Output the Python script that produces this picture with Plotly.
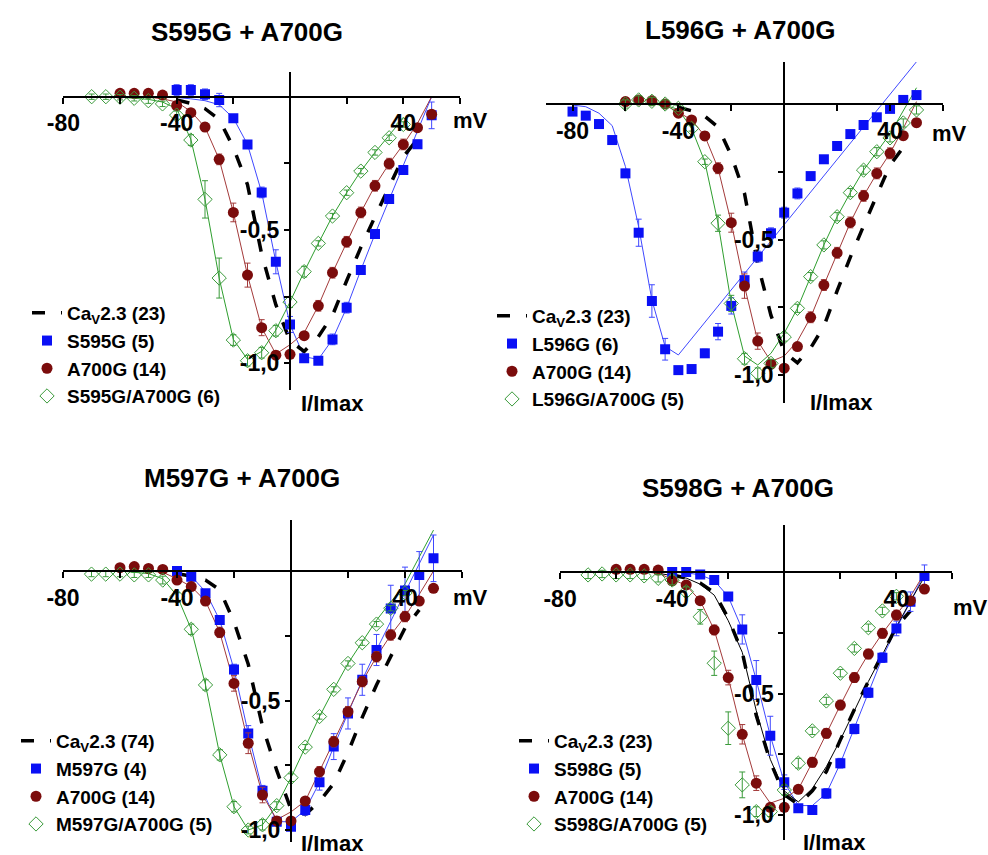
import plotly.graph_objects as go

W, H = 988, 855

# ------------------------------------------------------------------ data
TITLES = ["S595G + A700G", "L596G + A700G", "M597G + A700G", "S598G + A700G"]
LEG_CAV = ["Ca<sub>V</sub>2.3 (23)", "Ca<sub>V</sub>2.3 (23)", "Ca<sub>V</sub>2.3 (74)", "Ca<sub>V</sub>2.3 (23)"]
LEG_BLUE = ["S595G (5)", "L596G (6)", "M597G (4)", "S598G (5)"]
LEG_RED = ["A700G (14)", "A700G (14)", "A700G (14)", "A700G (14)"]
LEG_GREEN = ["S595G/A700G (6)", "L596G/A700G (5)", "M597G/A700G (5)", "S598G/A700G (5)"]

X_TICKVALS = [-80, -40, 40]
X_TICKTEXT = ["-80", "-40", "40"]
X_MINORVALS = [-60, -20, 20, 60]
Y_TICKVALS = [-1.0, -0.5]
Y_TICKTEXT = ["-1,0", "-0,5"]
Y_MINORVALS = [-0.75, -0.25]

V_CAV = [-40, -35, -30, -25, -20, -15, -10, -5, 0, 5, 10, 15, 20, 25, 30, 35, 40, 45]
I_CAV23 = [-0.012, -0.025, -0.045, -0.085, -0.19, -0.33, -0.59, -0.78, -0.915, -0.955,
           -0.9, -0.82, -0.69, -0.565, -0.45, -0.335, -0.225, -0.16]
I_CAV74 = [-0.01, -0.02, -0.035, -0.073, -0.196, -0.36, -0.6, -0.77, -0.92, -0.94,
           -0.89, -0.82, -0.7, -0.565, -0.44, -0.33, -0.22, -0.15]
V_CAVFIT4 = [-45, -40, -35, -30, -25, -20, -15, -10, -5, 0, 5, 10, 15, 20, 25, 30, 35, 40, 45, 50]
I_CAVFIT4 = [-0.005, -0.015, -0.025, -0.05, -0.095, -0.2, -0.33, -0.57, -0.77, -0.9, -0.945,
             -0.89, -0.8, -0.69, -0.57, -0.45, -0.34, -0.225, -0.12, -0.02]

# ---- panel 1 : S595G + A700G
P1_BLUE_V = [-40, -35, -30, -25, -20, -15, -10, -5, 0, 5, 10, 15, 20, 25, 30, 35, 40, 45, 50]
P1_BLUE_I = [0.025, 0.025, 0.009, -0.0125, -0.081, -0.179, -0.359, -0.619, -0.854, -0.981,
             -0.99, -0.91, -0.791, -0.65, -0.515, -0.384, -0.275, -0.178, -0.07]
P1_BLUE_E = [0.02, 0.02, 0.02, 0.025, 0.01, 0.01, 0.02, 0.045, 0.03, 0.01, 0.01, 0.02, 0.02,
             0.015, 0.01, 0.01, 0.01, 0.015, 0.05]
P1_BLUE_FIT_V = [-50, -40, -35, -30, -25, -20, -15, -10, -5, 0, 5, 10, 15, 20, 25, 30, 50]
P1_BLUE_FIT_I = [0.0, -0.003, -0.008, -0.015, -0.03, -0.08, -0.179, -0.359, -0.619, -0.854,
                 -0.975, -0.985, -0.91, -0.791, -0.65, -0.515, 0.0]
P1_RED_V = [-60, -55, -50, -45, -40, -35, -30, -25, -20, -15, -10, -5, 0, 5, 10, 15, 20, 25,
            30, 35, 40, 45, 50]
P1_RED_I = [0.0125, 0.0125, 0.0125, 0.006, -0.033, -0.06, -0.114, -0.235, -0.434, -0.669,
            -0.866, -0.969, -0.966, -0.896, -0.784, -0.66, -0.544, -0.434, -0.334, -0.251,
            -0.179, -0.116, -0.066]
P1_RED_E = [0.01, 0.01, 0.01, 0.01, 0.01, 0.01, 0.015, 0.02, 0.035, 0.045, 0.03, 0.015, 0.01,
            0.01, 0.02, 0.02, 0.02, 0.02, 0.02, 0.02, 0.02, 0.015, 0.015]
P1_RED_FIT_V = [-60, -50, -45, -40, -35, -30, -25, -20, -15, -10, -5, 0, 5, 10, 15, 20, 25,
                30, 35, 40, 45, 50]
P1_RED_FIT_I = [0.0, -0.002, -0.008, -0.02, -0.055, -0.114, -0.235, -0.434, -0.669, -0.866,
                -0.965, -0.93, -0.885, -0.784, -0.66, -0.544, -0.434, -0.334, -0.251, -0.179,
                -0.1, 0.0]
P1_GREEN_V = [-70, -65, -60, -55, -50, -45, -40, -35, -30, -25, -20, -15, -10, -5, 0, 5, 10,
              15, 20, 25, 30, 35, 40]
P1_GREEN_I = [0.0, 0.0, -0.002, -0.006, -0.015, -0.027, -0.069, -0.1625, -0.385, -0.68,
              -0.9125, -0.99, -0.96, -0.8775, -0.77, -0.656, -0.55, -0.4475, -0.36, -0.279,
              -0.209, -0.154, -0.104]
P1_GREEN_E = [0.01, 0.01, 0.01, 0.01, 0.01, 0.01, 0.015, 0.02, 0.07, 0.075, 0.02, 0.02, 0.02,
              0.02, 0.02, 0.02, 0.01, 0.01, 0.01, 0.01, 0.01, 0.01, 0.01]
P1_GREEN_FIT_V = [-70, -60, -50, -45, -40, -35, -30, -25, -20, -15, -10, -5, 0, 5, 10, 15, 20,
                  25, 30, 35, 40]
P1_GREEN_FIT_I = [0.0, -0.002, -0.01, -0.02, -0.045, -0.16, -0.385, -0.68, -0.91, -0.985,
                  -0.955, -0.875, -0.77, -0.656, -0.55, -0.4475, -0.36, -0.279, -0.209,
                  -0.145, -0.08]

# ---- panel 2 : L596G + A700G
P2_BLUE_V = [-80, -75, -70, -65, -60, -55, -50, -45, -40, -35, -30, -25, -20, -15, -10, -5,
             0, 5, 10, 15, 20, 25, 30, 35, 40, 45, 50]
P2_BLUE_I = [-0.028, -0.043, -0.074, -0.133, -0.256, -0.475, -0.727, -0.905, -0.982, -0.978,
             -0.92, -0.84, -0.745, -0.65, -0.563, -0.477, -0.401, -0.33, -0.266, -0.204,
             -0.155, -0.111, -0.0775, -0.049, -0.018, 0.015, 0.033]
P2_BLUE_E = [0.01, 0.01, 0.01, 0.01, 0.015, 0.05, 0.06, 0.04, 0.01, 0.01, 0.015, 0.03, 0.03,
             0.03, 0.02, 0.02, 0.02, 0.02, 0.01, 0.01, 0.01, 0.01, 0.01, 0.01, 0.01, 0.01, 0.01]
P2_BLUE_FIT_V = [-80, -75, -70, -65, -60, -55, -50, -45, -40, 50]
P2_BLUE_FIT_I = [-0.004, -0.01, -0.034, -0.08, -0.231, -0.453, -0.723, -0.895, -0.926, 0.156]
P2_RED_V = [-60, -55, -50, -45, -40, -35, -30, -25, -20, -15, -10, -5, 0, 5, 10, 15, 20, 25,
            30, 35, 40, 45, 50]
P2_RED_I = [0.009, 0.015, 0.012, 0.0, -0.034, -0.059, -0.118, -0.237, -0.438, -0.672,
            -0.875, -0.96, -0.975, -0.895, -0.787, -0.668, -0.549, -0.437, -0.339, -0.256,
            -0.182, -0.117, -0.069]
P2_RED_E = [0.015, 0.015, 0.015, 0.015, 0.01, 0.01, 0.015, 0.02, 0.035, 0.045, 0.03, 0.015,
            0.01, 0.01, 0.02, 0.02, 0.02, 0.02, 0.02, 0.02, 0.02, 0.015, 0.015]
P2_RED_FIT_V = [-60, -50, -45, -40, -35, -30, -25, -20, -15, -10, -5, 0, 5, 10, 15, 20, 25,
                30, 35, 40, 45, 50]
P2_RED_FIT_I = [0.0, 0.0, -0.005, -0.03, -0.059, -0.118, -0.237, -0.438, -0.672, -0.875,
                -0.95, -0.93, -0.875, -0.787, -0.668, -0.549, -0.437, -0.339, -0.256, -0.182,
                -0.09, 0.009]
P2_GREEN_V = [-60, -55, -50, -45, -40, -35, -30, -25, -20, -15, -10, -5, 0, 5, 10, 15, 20, 25,
              30, 35, 40, 45, 50]
P2_GREEN_I = [0.0, 0.015, 0.01, 0.0, -0.016, -0.09, -0.213, -0.44, -0.736, -0.94, -0.994,
              -0.957, -0.86, -0.754, -0.637, -0.52, -0.416, -0.327, -0.244, -0.176, -0.125,
              -0.07, -0.022]
P2_GREEN_E = [0.015, 0.015, 0.015, 0.015, 0.01, 0.01, 0.01, 0.03, 0.03, 0.02, 0.02, 0.015,
              0.015, 0.015, 0.015, 0.015, 0.015, 0.015, 0.015, 0.015, 0.015, 0.015, 0.015]
P2_GREEN_FIT_V = [-60, -50, -45, -40, -35, -30, -25, -20, -15, -10, -5, 0, 5, 10, 15, 20, 25,
                  30, 35, 40, 50]
P2_GREEN_FIT_I = [0.0, 0.0, -0.005, -0.02, -0.09, -0.213, -0.44, -0.736, -0.93, -0.963,
                  -0.92, -0.846, -0.754, -0.637, -0.52, -0.416, -0.327, -0.244, -0.176,
                  -0.11, 0.06]

# ---- panel 3 : M597G + A700G
P3_BLUE_V = [-40, -35, -30, -25, -20, -15, -10, -5, 0, 5, 10, 15, 20, 25, 30, 35, 40, 45, 50]
P3_BLUE_I = [0.0, -0.022, -0.086, -0.189, -0.38, -0.627, -0.848, -0.968, -0.987, -0.923,
             -0.816, -0.678, -0.55, -0.42, -0.305, -0.145, -0.075, -0.015, 0.049]
P3_BLUE_E = [0.01, 0.01, 0.01, 0.01, 0.02, 0.03, 0.02, 0.01, 0.01, 0.02, 0.03, 0.05, 0.06,
             0.06, 0.06, 0.09, 0.09, 0.09, 0.09]
P3_BLUE_FIT_V = [-45, -40, -35, -30, -25, -20, -15, -10, -5, 0, 5, 10, 15, 20, 25, 30, 50]
P3_BLUE_FIT_I = [0.0, -0.003, -0.02, -0.08, -0.19, -0.38, -0.627, -0.848, -0.968, -0.968,
                 -0.923, -0.816, -0.678, -0.55, -0.42, -0.305, 0.139]
P3_RED_V = [-60, -55, -50, -45, -40, -35, -30, -25, -20, -15, -10, -5, 0, 5, 10, 15, 20, 25,
            30, 35, 40, 45, 50]
P3_RED_I = [0.013, 0.017, 0.01, 0.006, -0.035, -0.06, -0.116, -0.237, -0.434, -0.665, -0.865,
            -0.965, -0.965, -0.888, -0.775, -0.659, -0.543, -0.427, -0.331, -0.247, -0.176,
            -0.116, -0.067]
P3_RED_E = [0.01, 0.01, 0.01, 0.01, 0.01, 0.01, 0.015, 0.02, 0.03, 0.04, 0.03, 0.015, 0.01,
            0.01, 0.02, 0.02, 0.02, 0.02, 0.02, 0.02, 0.02, 0.015, 0.015]
P3_RED_FIT_V = [-60, -50, -45, -40, -35, -30, -25, -20, -15, -10, -5, 0, 5, 10, 15, 20, 25,
                30, 35, 40, 45, 50]
P3_RED_FIT_I = [0.0, 0.0, -0.005, -0.03, -0.06, -0.116, -0.237, -0.434, -0.665, -0.865,
                -0.96, -0.93, -0.888, -0.775, -0.659, -0.543, -0.427, -0.331, -0.247, -0.176,
                -0.09, 0.0]
P3_GREEN_V = [-70, -65, -60, -55, -50, -45, -40, -35, -30, -25, -20, -15, -10, -5, 0, 5, 10,
              15, 20, 25, 30, 35, 40]
P3_GREEN_I = [-0.012, -0.012, -0.012, -0.015, -0.015, -0.035, -0.099, -0.225, -0.44, -0.71,
              -0.91, -1.0, -0.98, -0.906, -0.798, -0.68, -0.562, -0.457, -0.357, -0.277,
              -0.205, -0.144, -0.085]
P3_GREEN_E = [0.01, 0.01, 0.01, 0.01, 0.01, 0.015, 0.015, 0.02, 0.02, 0.02, 0.02, 0.015,
              0.02, 0.015, 0.015, 0.01, 0.01, 0.01, 0.01, 0.01, 0.01, 0.01, 0.01]
P3_GREEN_FIT_V = [-70, -60, -50, -45, -40, -35, -30, -25, -20, -15, -10, -5, 0, 5, 10, 15, 20,
                  30, 40, 50]
P3_GREEN_FIT_I = [0.0, 0.0, -0.01, -0.03, -0.095, -0.225, -0.44, -0.71, -0.91, -1.0, -0.98,
                  -0.906, -0.798, -0.68, -0.562, -0.457, -0.357, -0.19, -0.05, 0.158]

# ---- panel 4 : S598G + A700G
P4_BLUE_V = [-40, -35, -30, -25, -20, -15, -10, -5, 0, 5, 10, 15, 20, 25, 30, 35, 40, 45, 50]
P4_BLUE_I = [0.0, 0.0, -0.01, -0.033, -0.101, -0.236, -0.444, -0.673, -0.864, -0.971, -0.978,
             -0.91, -0.786, -0.645, -0.496, -0.352, -0.232, -0.122, -0.016]
P4_BLUE_E = [0.005, 0.005, 0.005, 0.005, 0.015, 0.06, 0.08, 0.08, 0.03, 0.01, 0.01, 0.02, 0.02,
             0.02, 0.02, 0.02, 0.03, 0.04, 0.045]
P4_BLUE_FIT_V = [-45, -40, -35, -30, -25, -20, -15, -10, -5, 0, 5, 10, 15, 20, 25, 30, 35, 40,
                 45, 50]
P4_BLUE_FIT_I = [0.0, 0.0, -0.003, -0.012, -0.035, -0.101, -0.236, -0.444, -0.673, -0.864,
                 -0.96, -0.96, -0.91, -0.786, -0.645, -0.496, -0.352, -0.232, -0.122, -0.005]
P4_RED_V = [-60, -55, -50, -45, -40, -35, -30, -25, -20, -15, -10, -5, 0, 5, 10, 15, 20, 25,
            30, 35, 40, 45, 50]
P4_RED_I = [0.011, 0.011, 0.011, 0.008, -0.036, -0.053, -0.118, -0.238, -0.434, -0.667,
            -0.868, -0.967, -0.967, -0.893, -0.782, -0.663, -0.547, -0.434, -0.337, -0.252,
            -0.177, -0.118, -0.07]
P4_RED_E = [0.01, 0.01, 0.01, 0.01, 0.01, 0.01, 0.015, 0.02, 0.03, 0.04, 0.03, 0.015, 0.01,
            0.01, 0.02, 0.02, 0.02, 0.02, 0.02, 0.02, 0.02, 0.015, 0.015]
P4_RED_FIT_V = [-60, -50, -45, -40, -35, -30, -25, -20, -15, -10, -5, 0, 5, 10, 15, 20, 25,
                30, 35, 40, 45, 50]
P4_RED_FIT_I = [0.0, 0.0, -0.005, -0.03, -0.055, -0.118, -0.238, -0.434, -0.667, -0.868,
                -0.95, -0.93, -0.893, -0.782, -0.663, -0.547, -0.434, -0.337, -0.252, -0.177,
                -0.1, -0.005]
P4_GREEN_V = [-70, -65, -60, -55, -50, -45, -40, -35, -30, -25, -20, -15, -10, -5, 0, 5, 10,
              15, 20, 25, 30, 35, 40]
P4_GREEN_I = [-0.012, -0.008, -0.012, -0.012, -0.016, -0.026, -0.033, -0.081, -0.184, -0.375,
              -0.642, -0.875, -0.985, -0.985, -0.896, -0.786, -0.653, -0.53, -0.416, -0.314,
              -0.229, -0.16, -0.1]
P4_GREEN_E = [0.015, 0.015, 0.015, 0.015, 0.015, 0.015, 0.02, 0.02, 0.03, 0.05, 0.067, 0.053,
              0.02, 0.02, 0.02, 0.02, 0.015, 0.015, 0.015, 0.015, 0.015, 0.015, 0.015]

# ------------------------------------------------------------------ styles
BLUE = "#0A10F5"
RED = "#7B0C0C"
GREEN = "#3A9A3A"
BLUE_LINE = "#3F48FF"
RED_LINE = "#A33A3A"
GREEN_LINE = "#2E9E2E"
FONT = "Liberation Sans"

# pixel geometry of each panel (x of 0 mV, px per mV, x range, y of 0, px per unit, top, bottom)
GEOM = [
    dict(x0=290.0, sx=2.833, xmin=-80, xmax=60, y0=96.7, sy=266.7, ytop=71.7, ybot=390.0),
    dict(x0=784.2, sx=2.646, xmin=-90, xmax=60, y0=104.0, sy=271.0, ytop=62.0, ybot=403.0),
    dict(x0=291.0, sx=2.850, xmin=-80, xmax=60, y0=571.0, sy=259.0, ytop=520.0, ybot=841.7),
    dict(x0=784.3, sx=2.803, xmin=-80, xmax=60, y0=572.0, sy=243.3, ytop=525.0, ybot=840.0),
]
TITLE_POS = [(247, 32), (740, 30), (242, 478), (738, 488)]
MV_POS = [(470, 120), (949, 133), (470, 597), (970, 607)]
IMAX_POS = [(332, 403), (841, 402), (332, 843), (834, 842)]
LEG_POS = [(27, 294), (492, 297), (16, 722), (514, 722)]

PANELS = [
    dict(cav_v=V_CAV, cav_i=I_CAV23, cav_fit=None,
         blue=(P1_BLUE_V, P1_BLUE_I, P1_BLUE_E), blue_fit=(P1_BLUE_FIT_V, P1_BLUE_FIT_I),
         red=(P1_RED_V, P1_RED_I, P1_RED_E), red_fit=(P1_RED_FIT_V, P1_RED_FIT_I),
         green=(P1_GREEN_V, P1_GREEN_I, P1_GREEN_E), green_fit=(P1_GREEN_FIT_V, P1_GREEN_FIT_I)),
    dict(cav_v=V_CAV, cav_i=I_CAV23, cav_fit=None,
         blue=(P2_BLUE_V, P2_BLUE_I, P2_BLUE_E), blue_fit=(P2_BLUE_FIT_V, P2_BLUE_FIT_I),
         red=(P2_RED_V, P2_RED_I, P2_RED_E), red_fit=(P2_RED_FIT_V, P2_RED_FIT_I),
         green=(P2_GREEN_V, P2_GREEN_I, P2_GREEN_E), green_fit=(P2_GREEN_FIT_V, P2_GREEN_FIT_I)),
    dict(cav_v=V_CAV, cav_i=I_CAV74, cav_fit=None,
         blue=(P3_BLUE_V, P3_BLUE_I, P3_BLUE_E), blue_fit=(P3_BLUE_FIT_V, P3_BLUE_FIT_I),
         red=(P3_RED_V, P3_RED_I, P3_RED_E), red_fit=(P3_RED_FIT_V, P3_RED_FIT_I),
         green=(P3_GREEN_V, P3_GREEN_I, P3_GREEN_E), green_fit=(P3_GREEN_FIT_V, P3_GREEN_FIT_I)),
    dict(cav_v=V_CAV, cav_i=I_CAV23, cav_fit=(V_CAVFIT4, I_CAVFIT4),
         blue=(P4_BLUE_V, P4_BLUE_I, P4_BLUE_E), blue_fit=(P4_BLUE_FIT_V, P4_BLUE_FIT_I),
         red=(P4_RED_V, P4_RED_I, P4_RED_E), red_fit=(P4_RED_FIT_V, P4_RED_FIT_I),
         green=(P4_GREEN_V, P4_GREEN_I, P4_GREEN_E), green_fit=None),
]

fig = go.Figure()
layout = dict(
    width=W, height=H, margin=dict(l=0, r=0, t=0, b=0, pad=0, autoexpand=False),
    autosize=False,
    paper_bgcolor="white", plot_bgcolor="rgba(0,0,0,0)",
    separators=",.", font=dict(family=FONT, color="black"),
    annotations=[],
)

for k, (g, p) in enumerate(zip(GEOM, PANELS)):
    n = "" if k == 0 else str(k + 1)
    xa, ya = "x" + n, "y" + n
    leg = "legend" + n

    # fitted curves
    fits = [(p["blue_fit"], BLUE_LINE), (p["red_fit"], RED_LINE), (p["green_fit"], GREEN_LINE)]
    for fit, col in fits:
        if fit is None:
            continue
        fig.add_trace(go.Scatter(x=fit[0], y=fit[1], mode="lines", xaxis=xa, yaxis=ya,
                                 line=dict(color=col, width=1), showlegend=False,
                                 hoverinfo="skip"))
    if p["cav_fit"] is not None:
        fig.add_trace(go.Scatter(x=p["cav_fit"][0], y=p["cav_fit"][1], mode="lines",
                                 xaxis=xa, yaxis=ya, line=dict(color="black", width=1),
                                 showlegend=False, hoverinfo="skip"))
    # CaV2.3 reference (dashed)
    fig.add_trace(go.Scatter(x=p["cav_v"], y=p["cav_i"], mode="lines", xaxis=xa, yaxis=ya,
                             name=LEG_CAV[k], legend=leg,
                             line=dict(color="black", width=3.5, dash="13px,16px")))
    # data points
    bv, bi, be = p["blue"]
    fig.add_trace(go.Scatter(x=bv, y=bi, mode="markers", xaxis=xa, yaxis=ya,
                             name=LEG_BLUE[k], legend=leg,
                             marker=dict(symbol="square", size=10, color=BLUE),
                             error_y=dict(type="data", array=be, color=BLUE_LINE,
                                          thickness=1, width=3)))
    rv, ri, re = p["red"]
    fig.add_trace(go.Scatter(x=rv, y=ri, mode="markers", xaxis=xa, yaxis=ya,
                             name=LEG_RED[k], legend=leg,
                             marker=dict(symbol="circle", size=11, color=RED),
                             error_y=dict(type="data", array=re, color=RED_LINE,
                                          thickness=1, width=3)))
    gv, gi, ge = p["green"]
    fig.add_trace(go.Scatter(x=gv, y=gi, mode="markers", xaxis=xa, yaxis=ya,
                             name=LEG_GREEN[k], legend=leg,
                             marker=dict(symbol="diamond-open", size=11, color=GREEN,
                                         line=dict(width=1, color=GREEN)),
                             error_y=dict(type="data", array=ge, color=GREEN,
                                          thickness=1, width=3)))

    xl = g["x0"] + g["xmin"] * g["sx"]
    xr = g["x0"] + g["xmax"] * g["sx"]
    ymin = -(g["ybot"] - g["y0"]) / g["sy"]
    ymax = (g["y0"] - g["ytop"]) / g["sy"]

    layout["xaxis" + n] = dict(
        domain=[xl / W, xr / W], range=[g["xmin"], g["xmax"]], anchor="free",
        position=1 - g["y0"] / H, showline=True, linecolor="black", linewidth=2,
        ticks="outside", ticklen=6, tickwidth=2, tickcolor="black", automargin=False,
        tickvals=X_TICKVALS, ticktext=X_TICKTEXT, showgrid=False, zeroline=False,
        minor=dict(tickvals=X_MINORVALS, ticks="outside", ticklen=6, tickwidth=2,
                   tickcolor="black", showgrid=False),
        tickfont=dict(family=FONT, size=23, color="black", weight="bold"),
        fixedrange=True,
    )
    layout["yaxis" + n] = dict(
        domain=[1 - g["ybot"] / H, 1 - g["ytop"] / H], range=[ymin, ymax], anchor="free",
        position=g["x0"] / W, showline=True, linecolor="black", linewidth=2,
        ticks="outside", ticklen=5, tickwidth=2, tickcolor="black", automargin=False,
        tickvals=Y_TICKVALS, ticktext=Y_TICKTEXT, showgrid=False, zeroline=False,
        minor=dict(tickvals=Y_MINORVALS, ticks="outside", ticklen=5, tickwidth=2,
                   tickcolor="black", showgrid=False),
        tickfont=dict(family=FONT, size=23, color="black", weight="bold"),
        fixedrange=True,
    )
    lx, ly = LEG_POS[k]
    layout[leg] = dict(
        x=lx / W, y=1 - ly / H, xanchor="left", yanchor="top",
        bgcolor="rgba(0,0,0,0)", itemwidth=30, tracegroupgap=0,
        font=dict(family=FONT, size=19, color="black", weight="bold"),
    )
    tx, ty = TITLE_POS[k]
    layout["annotations"].append(dict(
        text=TITLES[k], x=tx / W, y=1 - ty / H, xref="paper", yref="paper",
        xanchor="center", yanchor="middle", showarrow=False,
        font=dict(family=FONT, size=26, color="black", weight="bold")))
    mx, my = MV_POS[k]
    layout["annotations"].append(dict(
        text="mV", x=mx / W, y=1 - my / H, xref="paper", yref="paper",
        xanchor="center", yanchor="middle", showarrow=False,
        font=dict(family=FONT, size=22, color="black", weight="bold")))
    ix, iy = IMAX_POS[k]
    layout["annotations"].append(dict(
        text="I/Imax", x=ix / W, y=1 - iy / H, xref="paper", yref="paper",
        xanchor="center", yanchor="middle", showarrow=False,
        font=dict(family=FONT, size=22, color="black", weight="bold")))

fig.update_layout(**layout)
fig.write_html("out.html")
